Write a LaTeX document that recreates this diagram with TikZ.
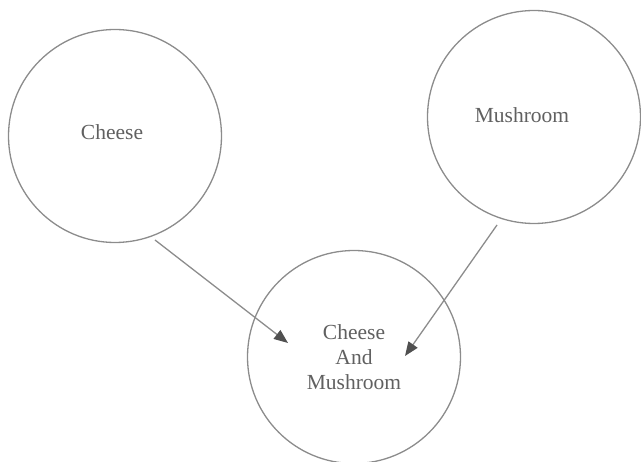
\documentclass[tikz,border=0pt]{standalone}
\usepackage{fontspec}
\setmainfont{Liberation Serif}
\usetikzlibrary{arrows.meta}
\definecolor{pzLine}{HTML}{8C8C8C}
\definecolor{pzInk}{HTML}{606060}
\definecolor{pzHead}{HTML}{505050}
\newcommand{\PZType}{\fontsize{21.5}{25}\selectfont}
\tikzset{pz/base/.style={x=1pt,y=-1pt,
  every node/.style={font=\PZType,text=pzInk}},
  pz/topping/.style={circle,draw=pzLine,line width=1.3pt,minimum size=213pt,
    inner sep=0pt,align=center},
  pz/arrow/.style={-{Triangle[length=14pt,width=11pt,color=pzHead]},draw=pzLine,line width=1.3pt}}

\begin{document}
\begin{tikzpicture}[pz/base]
  \useasboundingbox (0,0) rectangle (641,462);
  % Two single toppings feed the combined one.
  \node[pz/topping,label={[xshift=-3pt,yshift=4pt]center:Cheese}] (cheese) at (115,136) {};
  \node[pz/topping,label={[xshift=-12pt,yshift=2pt]center:Mushroom}] (mushroom) at (534,117) {};
  \node[pz/topping] (both) at (354,357) {Cheese\\And\\Mushroom};
  \coordinate (cheeseOut) at (155,240);
  \coordinate (cheeseIn) at (288,343);
  \coordinate (mushOut) at (497,225);
  \coordinate (mushIn) at (405,356);
  \draw[pz/arrow] (cheeseOut) -- (cheeseIn);
  \draw[pz/arrow] (mushOut) -- (mushIn);
\end{tikzpicture}
\end{document}
